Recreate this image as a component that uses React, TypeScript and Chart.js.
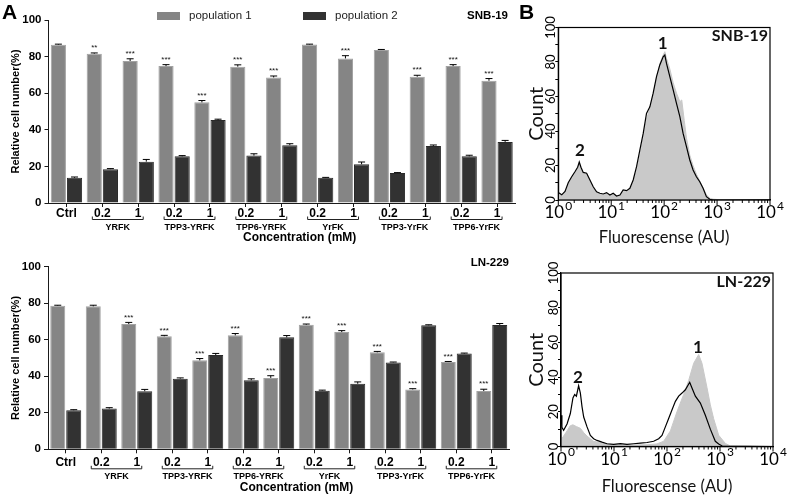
import React, { useEffect, useRef } from 'react';
import { Chart, registerables } from 'chart.js';

Chart.register(...registerables);

const FONT = '"Liberation Sans", Arial, sans-serif';
const HFONT = 'Lato, "Open Sans", sans-serif';

// ---------- Panel A: bar charts ----------
const categories = ['Ctrl', '0.2', '1', '0.2', '1', '0.2', '1', '0.2', '1', '0.2', '1', '0.2', '1'];
const groups = ['YRFK', 'TPP3-YRFK', 'TPP6-YRFK', 'YrFK', 'TPP3-YrFK', 'TPP6-YrFK'];
const seriesNames = ['population 1', 'population 2'];
const yTicks = [0, 20, 40, 60, 80, 100];

// SNB-19
const snbPop1 = [86.5, 81.6, 77.6, 74.8, 55.0, 74.5, 68.6, 86.6, 79.0, 83.6, 69.0, 74.8, 66.8];
const snbPop1Err = [0.3, 0.4, 1.2, 0.8, 1.0, 1.0, 0.8, 0.2, 1.5, 0.3, 0.8, 0.8, 1.2];
const snbPop2 = [13.8, 18.5, 22.6, 25.5, 45.3, 25.9, 31.6, 13.8, 21.2, 16.4, 31.2, 25.5, 33.4];
const snbPop2Err = [0.4, 0.3, 1.2, 0.4, 0.5, 1.0, 0.8, 0.2, 1.2, 0.2, 0.5, 0.6, 0.8];
const snbStars = ['', '**', '***', '***', '***', '***', '***', '', '***', '', '***', '***', '***'];

// LN-229
const lnPop1 = [78.6, 78.3, 68.6, 61.9, 48.7, 62.4, 39.1, 68.2, 64.2, 53.1, 32.8, 47.8, 31.9];
const lnPop1Err = [0.3, 0.6, 0.9, 0.5, 1.0, 1.0, 1.2, 0.4, 0.8, 0.5, 0.4, 0.3, 1.0];
const lnPop2 = [21.4, 22.3, 31.8, 38.7, 51.6, 37.8, 61.3, 32.1, 35.9, 47.6, 67.9, 52.4, 68.1];
const lnPop2Err = [0.3, 0.5, 1.0, 0.4, 0.9, 0.8, 1.0, 0.3, 1.0, 0.2, 0.3, 0.3, 0.8];
const lnStars = ['', '', '***', '***', '***', '***', '***', '***', '***', '***', '***', '***', '***'];

// ---------- Panel B: flow cytometry histograms ----------
const decadeTicks = [1, 10, 100, 1000, 10000];
const histYLabels = [0, 20, 40, 60, 80, 100];

// SNB-19 outline (black line)
const snbLineF = [1.0, 1.16, 1.34, 1.54, 1.79, 2.06, 2.32, 2.49, 2.68, 2.96, 3.43, 3.96, 4.57, 5.29, 6.11, 7.06, 8.17, 9.44, 10.9, 12.6, 14.6, 16.8, 19.5, 22.5, 26.0, 30.1, 34.8, 40.2, 46.4, 53.7, 62.0, 71.7, 82.8, 95.7, 103, 111, 128, 148, 171, 198, 228, 264, 305, 352, 407, 471, 544, 629, 727, 841, 10000];
const snbLineCount = [4.3, 3, 5, 10, 13.5, 16.4, 19, 22, 19, 16, 15.5, 11.6, 7.7, 4.8, 3.9, 3.5, 4.3, 2.9, 3.9, 2.3, 2.9, 5.8, 5.4, 6.8, 11.6, 19.3, 29, 38.6, 50.2, 54, 61.9, 71.5, 78.3, 83, 84, 79, 71.5, 63.8, 56, 48.3, 38.6, 31, 23.2, 17.4, 13.5, 10.6, 6.8, 1.9, 0.4, 0, 0];
// SNB-19 filled (grey)
const snbFillF = [1.0, 1.16, 1.34, 1.54, 1.79, 2.06, 2.32, 2.49, 2.68, 2.96, 3.43, 3.96, 4.57, 5.29, 6.11, 7.06, 8.17, 9.44, 10.9, 12.6, 14.6, 16.8, 19.5, 22.5, 26.0, 30.1, 34.8, 40.2, 46.4, 53.7, 62.0, 71.7, 82.8, 95.7, 103, 111, 128, 148, 171, 198, 215, 240, 264, 305, 352, 407, 471, 544, 629, 727, 841, 1000, 10000];
const snbFillCount = [4, 3, 5, 9, 13, 16, 18.5, 21, 18.5, 15.5, 15, 11, 7, 4.5, 3.5, 3, 4, 2.5, 3.5, 2, 2.5, 5, 5, 6, 10, 17, 26, 36, 47, 53, 61, 71, 79, 84, 86, 82, 76, 68, 62, 57, 58, 46, 36, 26, 20, 15, 11, 7, 3, 1, 0.5, 0.3, 0];
const snbPeakNames = ['1', '2'];
const snbPeakF = [94, 2.57];
const snbPeakCount = [91, 28.4];

// LN-229 outline (black line)
const lnLineF = [1.0, 1.04, 1.12, 1.3, 1.5, 1.68, 1.81, 1.95, 2.15, 2.32, 2.49, 2.68, 3.1, 3.58, 4.13, 4.78, 5.94, 7.38, 9.86, 13.2, 17.6, 23.5, 31.4, 42.0, 56.0, 69.6, 80.5, 93.1, 107, 124, 144, 166, 192, 222, 268, 296, 343, 426, 529, 657, 816, 944, 1100, 10000];
const lnLineCount = [18, 11, 9.4, 13, 19, 28, 30, 29, 35, 30.8, 23, 17, 11.3, 6.4, 4.5, 3.5, 2.5, 1.6, 1.2, 1.6, 1.2, 1.6, 2, 2.3, 3, 4.5, 6.4, 11.3, 16, 21, 26, 29, 30.8, 32.7, 37, 33.7, 29, 25, 18, 10, 3, 1.5, 0.3, 0];
// LN-229 filled (grey)
const lnFillF = [1.0, 1.12, 1.3, 1.5, 1.68, 1.95, 2.32, 2.68, 3.1, 3.58, 4.13, 5.94, 9.86, 20.3, 42.0, 64.7, 86.5, 116, 154, 206, 256, 319, 396, 457, 568, 657, 760, 944, 1261, 1567, 10000];
const lnFillCount = [4, 6, 9, 12, 12.5, 11.5, 10.5, 8, 6, 4.5, 3, 2, 1, 0.8, 1, 1.5, 3, 9, 20, 30, 38, 48, 53, 48, 34, 24, 16, 6.5, 1.8, 0.3, 0];
const lnPeakNames = ['1', '2'];
const lnPeakF = [385, 2.09];
const lnPeakCount = [57.3, 40];

const POP1_COLOR = '#858585';
const POP1_EDGE = '#a2a2a2';
const POP2_COLOR = '#323232';
const POP2_EDGE = '#2a2a2a';
const AXIS = '#1a1a1a';

type BarCfg = {
  left: number; top: number; w: number; h: number;
  padTop: number; padRight: number; yAxisW: number; xAxisH: number;
  tickPad: number; bracketGap: number; groupGap: number; titleGap: number;
  pop1: number[]; pop1Err: number[]; pop2: number[]; pop2Err: number[]; stars: string[];
  cellLine: string; cellRight: number; cellY: number; legend: boolean;
};

function makeBarDecor(c: BarCfg) {
  return {
    id: 'barDecor',
    afterDatasetsDraw(chart: any) {
      const ctx = chart.ctx as CanvasRenderingContext2D;
      const ys = chart.scales.y;
      const errs = [c.pop1Err, c.pop2Err];
      ctx.save();
      chart.data.datasets.forEach((ds: any, di: number) => {
        const meta = chart.getDatasetMeta(di);
        meta.data.forEach((el: any, j: number) => {
          const v = ds.data[j];
          const yTop = ys.getPixelForValue(v + errs[di][j]);
          ctx.strokeStyle = '#000';
          ctx.lineWidth = 1;
          ctx.beginPath();
          ctx.moveTo(el.x, el.y);
          ctx.lineTo(el.x, yTop);
          ctx.moveTo(el.x - 3.5, yTop);
          ctx.lineTo(el.x + 3.5, yTop);
          ctx.stroke();
          if (di === 0 && c.stars[j]) {
            ctx.fillStyle = '#111';
            ctx.font = `8px ${FONT}`;
            ctx.textAlign = 'center';
            ctx.textBaseline = 'bottom';
            ctx.fillText(c.stars[j], el.x, yTop - 1);
          }
        });
      });
      ctx.restore();
    },
    afterDraw(chart: any) {
      const ctx = chart.ctx as CanvasRenderingContext2D;
      const xs = chart.scales.x;
      const a = chart.chartArea;
      ctx.save();
      // group brackets and names
      groups.forEach((g, gi) => {
        const i1 = 1 + gi * 2;
        const x1 = xs.getPixelForValue(i1) - 10;
        const x2 = xs.getPixelForValue(i1 + 1) + 5;
        const yb = a.bottom + c.bracketGap;
        ctx.strokeStyle = '#222';
        ctx.lineWidth = 1;
        ctx.beginPath();
        ctx.moveTo(x1, yb - 3);
        ctx.lineTo(x1, yb);
        ctx.lineTo(x2, yb);
        ctx.lineTo(x2, yb - 3);
        ctx.stroke();
        ctx.fillStyle = '#000';
        ctx.font = `bold 9px ${FONT}`;
        ctx.textAlign = 'center';
        ctx.textBaseline = 'middle';
        ctx.fillText(g, (x1 + x2) / 2, a.bottom + c.groupGap);
      });
      // axis title under the treatments
      const tx = (xs.getPixelForValue(6) + xs.getPixelForValue(7)) / 2;
      ctx.font = `bold 12px ${FONT}`;
      ctx.fillStyle = '#000';
      ctx.textAlign = 'center';
      ctx.textBaseline = 'middle';
      ctx.fillText('Concentration (mM)', tx, a.bottom + c.titleGap);
      // cell line name
      ctx.font = `bold 11.5px ${FONT}`;
      ctx.textAlign = 'right';
      ctx.fillText(c.cellLine, c.cellRight, c.cellY);
      // legend
      if (c.legend) {
        const boxX = [157, 303];
        chart.data.datasets.forEach((ds: any, di: number) => {
          ctx.fillStyle = ds.backgroundColor;
          ctx.fillRect(boxX[di], 12, 23, 8);
          ctx.fillStyle = '#222';
          ctx.font = `11.5px ${FONT}`;
          ctx.textAlign = 'left';
          ctx.textBaseline = 'middle';
          ctx.fillText(ds.label, boxX[di] + 32, 16);
        });
      }
      ctx.restore();
    },
  };
}

function BarPanel({ cfg }: { cfg: BarCfg }) {
  const ref = useRef<HTMLCanvasElement | null>(null);
  useEffect(() => {
    if (!ref.current) return;
    const c = cfg;
    const common = { borderWidth: 1, categoryPercentage: 0.9, barPercentage: 0.94 };
    const chart = new Chart(ref.current, {
      type: 'bar',
      data: {
        labels: categories,
        datasets: [
          { label: seriesNames[0], data: c.pop1, backgroundColor: POP1_COLOR, borderColor: POP1_EDGE, ...common },
          { label: seriesNames[1], data: c.pop2, backgroundColor: POP2_COLOR, borderColor: POP2_EDGE, ...common },
        ],
      },
      options: {
        responsive: false,
        animation: false,
        events: [],
        layout: { padding: { top: c.padTop, right: c.padRight, left: 0, bottom: 0 } },
        plugins: { legend: { display: false }, tooltip: { enabled: false } },
        scales: {
          x: {
            offset: true,
            grid: { display: true, drawOnChartArea: false, drawTicks: true, tickLength: 4, color: AXIS, offset: false },
            border: { display: true, color: AXIS, width: 1 },
            ticks: {
              color: '#000',
              font: { family: FONT, size: 12, weight: 'bold', lineHeight: 1 },
              padding: c.tickPad,
              autoSkip: false,
              maxRotation: 0,
              minRotation: 0,
            },
            afterFit: (s: any) => { s.height = c.xAxisH; },
          },
          y: {
            min: 0,
            max: 100,
            afterBuildTicks: (s: any) => { s.ticks = yTicks.map((v) => ({ value: v })); },
            grid: { display: true, drawOnChartArea: false, drawTicks: true, tickLength: 4, color: AXIS },
            border: { display: true, color: AXIS, width: 1 },
            ticks: { color: '#000', font: { family: FONT, size: 11.5, weight: 'bold' }, padding: 3 },
            title: {
              display: true,
              text: 'Relative cell number(%)',
              color: '#000',
              font: { family: FONT, size: 11, weight: 'bold' },
              padding: { top: 9, bottom: 0 },
            },
            afterFit: (s: any) => { s.width = c.yAxisW; },
          },
        },
      },
      plugins: [makeBarDecor(c)],
    } as any);
    return () => chart.destroy();
  }, []);
  return (
    <canvas
      ref={ref}
      width={cfg.w}
      height={cfg.h}
      style={{ position: 'absolute', left: cfg.left, top: cfg.top, width: cfg.w, height: cfg.h }}
    />
  );
}

type HistCfg = {
  left: number; top: number; w: number; h: number;
  padTop: number; padRight: number; yAxisW: number; xAxisH: number; titlePadBottom: number;
  lineF: number[]; lineCount: number[]; fillF: number[]; fillCount: number[];
  peakNames: string[]; peakF: number[]; peakCount: number[];
  cellLine: string;
};

function makeHistDecor(c: HistCfg) {
  return {
    id: 'histDecor',
    afterDraw(chart: any) {
      const ctx = chart.ctx as CanvasRenderingContext2D;
      const xs = chart.scales.x;
      const ys = chart.scales.y;
      const a = chart.chartArea;
      ctx.save();
      // box
      ctx.strokeStyle = '#000';
      ctx.lineWidth = 1.2;
      ctx.strokeRect(a.left, a.top, a.right - a.left, a.bottom - a.top);
      // log ticks and labels
      ctx.lineWidth = 1;
      decadeTicks.forEach((d, n) => {
        const px = xs.getPixelForValue(d);
        ctx.beginPath();
        ctx.moveTo(px, a.bottom);
        ctx.lineTo(px, a.bottom + 5);
        ctx.stroke();
        if (n < decadeTicks.length - 1) {
          for (let k = 2; k <= 9; k++) {
            const p = xs.getPixelForValue(d * k);
            ctx.beginPath();
            ctx.moveTo(p, a.bottom);
            ctx.lineTo(p, a.bottom + 3);
            ctx.stroke();
          }
        }
        ctx.fillStyle = '#000';
        ctx.textBaseline = 'middle';
        ctx.textAlign = 'left';
        ctx.font = `17px ${HFONT}`;
        const w1 = ctx.measureText('10').width;
        ctx.font = `12px ${HFONT}`;
        const exp = String(n);
        const w2 = ctx.measureText(exp).width;
        const start = px - (w1 + w2 + 1) / 2;
        ctx.font = `17px ${HFONT}`;
        ctx.fillText('10', start, a.bottom + 13);
        ctx.font = `12px ${HFONT}`;
        ctx.fillText(exp, start + w1 + 1, a.bottom + 6);
      });
      // rotated y labels
      ctx.font = `13px ${HFONT}`;
      ctx.textAlign = 'center';
      ctx.textBaseline = 'middle';
      histYLabels.forEach((v) => {
        const py = ys.getPixelForValue(v);
        ctx.save();
        ctx.translate(a.left - 7, py);
        ctx.rotate(-Math.PI / 2);
        ctx.fillText(String(v), 0, 0);
        ctx.restore();
      });
      // peak labels
      ctx.font = `bold 17px ${HFONT}`;
      ctx.fillStyle = '#111';
      c.peakNames.forEach((name, i) => {
        ctx.fillText(name, xs.getPixelForValue(c.peakF[i]), ys.getPixelForValue(c.peakCount[i]));
      });
      // cell line
      ctx.font = `bold 16px ${HFONT}`;
      ctx.textAlign = 'right';
      ctx.fillText(c.cellLine, a.right - 2, a.top + 8.5);
      ctx.restore();
    },
  };
}

function HistPanel({ cfg }: { cfg: HistCfg }) {
  const ref = useRef<HTMLCanvasElement | null>(null);
  useEffect(() => {
    if (!ref.current) return;
    const c = cfg;
    const chart = new Chart(ref.current, {
      type: 'line',
      data: {
        datasets: [
          {
            label: 'outline',
            data: c.lineF.map((f, i) => ({ x: f, y: c.lineCount[i] })),
            borderColor: '#000',
            borderWidth: 1.2,
            pointRadius: 0,
            fill: false,
            tension: 0,
            order: 0,
          },
          {
            label: 'filled',
            data: c.fillF.map((f, i) => ({ x: f, y: c.fillCount[i] })),
            borderColor: '#c9c9c9',
            backgroundColor: '#c9c9c9',
            borderWidth: 1,
            pointRadius: 0,
            fill: 'origin',
            tension: 0,
            order: 1,
          },
        ],
      },
      options: {
        responsive: false,
        animation: false,
        events: [],
        layout: { padding: { top: c.padTop, right: c.padRight, left: 0, bottom: 0 } },
        plugins: { legend: { display: false }, tooltip: { enabled: false } },
        scales: {
          x: {
            type: 'logarithmic',
            min: 1,
            max: 10000,
            grid: { display: false },
            border: { display: true, color: '#000', width: 1.2 },
            ticks: { display: false },
            title: {
              display: true,
              text: 'Fluorescense (AU)',
              color: '#111',
              font: { family: HFONT, size: 16.5 },
              padding: { top: 0, bottom: c.titlePadBottom },
            },
            afterFit: (s: any) => { s.height = c.xAxisH; },
          },
          y: {
            min: 0,
            max: 100,
            ticks: { stepSize: 10, callback: () => '', font: { size: 1 } },
            grid: { display: true, drawOnChartArea: false, drawTicks: true, tickLength: 3, color: '#000' },
            border: { display: true, color: '#000', width: 1.2 },
            title: {
              display: true,
              text: 'Count',
              color: '#111',
              font: { family: HFONT, size: 20 },
              padding: { top: 0, bottom: 0 },
            },
            afterFit: (s: any) => { s.width = c.yAxisW; },
          },
        },
      },
      plugins: [makeHistDecor(c)],
    } as any);
    return () => chart.destroy();
  }, []);
  return (
    <canvas
      ref={ref}
      width={cfg.w}
      height={cfg.h}
      style={{ position: 'absolute', left: cfg.left, top: cfg.top, width: cfg.w, height: cfg.h }}
    />
  );
}

const snbBar: BarCfg = {
  left: 0, top: 0, w: 525, h: 250,
  padTop: 20, padRight: 10, yAxisW: 48.5, xAxisH: 47,
  tickPad: 1, bracketGap: 16.5, groupGap: 24.5, titleGap: 34.5,
  pop1: snbPop1, pop1Err: snbPop1Err, pop2: snbPop2, pop2Err: snbPop2Err, stars: snbStars,
  cellLine: 'SNB-19', cellRight: 508, cellY: 16, legend: true,
};

const lnBar: BarCfg = {
  left: 0, top: 250, w: 525, h: 247,
  padTop: 16.7, padRight: 15.5, yAxisW: 48, xAxisH: 47.7,
  tickPad: 3, bracketGap: 19.5, groupGap: 27.5, titleGap: 38.5,
  pop1: lnPop1, pop1Err: lnPop1Err, pop2: lnPop2, pop2Err: lnPop2Err, stars: lnStars,
  cellLine: 'LN-229', cellRight: 509, cellY: 13, legend: false,
};

const snbHist: HistCfg = {
  left: 525, top: 0, w: 262, h: 250,
  padTop: 27.5, padRight: 17, yAxisW: 33.3, xAxisH: 50, titlePadBottom: 2,
  lineF: snbLineF, lineCount: snbLineCount, fillF: snbFillF, fillCount: snbFillCount,
  peakNames: snbPeakNames, peakF: snbPeakF, peakCount: snbPeakCount,
  cellLine: 'SNB-19',
};

const lnHist: HistCfg = {
  left: 525, top: 250, w: 262, h: 247,
  padTop: 23, padRight: 14, yAxisW: 36, xAxisH: 50.5, titlePadBottom: 0,
  lineF: lnLineF, lineCount: lnLineCount, fillF: lnFillF, fillCount: lnFillCount,
  peakNames: lnPeakNames, peakF: lnPeakF, peakCount: lnPeakCount,
  cellLine: 'LN-229',
};

export default function App() {
  const letter: React.CSSProperties = {
    position: 'absolute',
    font: `bold 21px ${FONT}`,
    lineHeight: '21px',
    color: '#000',
    margin: 0,
  };
  return (
    <div style={{ position: 'absolute', left: 0, top: 0, width: 787, height: 497, background: '#fff', overflow: 'hidden' }}>
      <BarPanel cfg={snbBar} />
      <BarPanel cfg={lnBar} />
      <HistPanel cfg={snbHist} />
      <HistPanel cfg={lnHist} />
      <div style={{ ...letter, left: 2, top: 0.5 }}>A</div>
      <div style={{ ...letter, left: 519, top: 0.5 }}>B</div>
    </div>
  );
}
